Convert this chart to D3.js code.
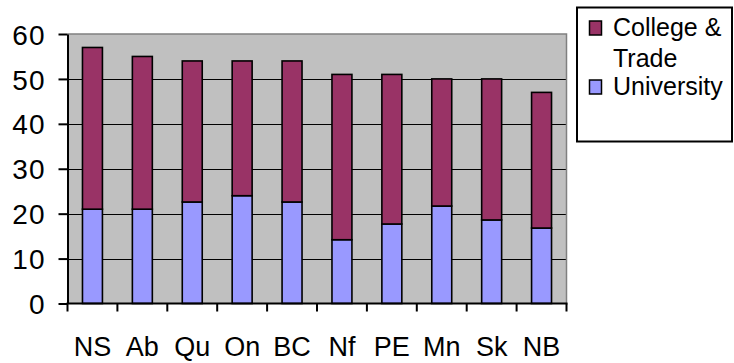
<!DOCTYPE html>
<html>
<head>
<meta charset="utf-8">
<script src="https://cdn.jsdelivr.net/npm/d3@7"></script>
<style>
  html, body { margin: 0; padding: 0; background: #fff; }
  svg { display: block; font-family: "Liberation Sans", Arial, sans-serif; }
</style>
</head>
<body>
<svg id="chart" width="734" height="363"></svg>
<script>
// Provinces (categories)
const provinces = ["NS", "Ab", "Qu", "On", "BC", "Nf", "PE", "Mn", "Sk", "NB"];
// Stacked series values (percent)
const university = [21, 21, 22.6, 24, 22.6, 14.2, 17.7, 21.7, 18.6, 16.8];
const collegeTrade = [36, 34, 31.4, 30, 31.4, 36.8, 33.3, 28.3, 31.4, 30.2];
// Value axis ticks
const yTicks = [0, 10, 20, 30, 40, 50, 60];

const seriesNames = ["University", "College & Trade"];
const colors = { "University": "#9999ff", "College & Trade": "#993366" };

const svg = d3.select("#chart");
const plot = { left: 67.5, right: 566.5, top: 34, bottom: 303.5 };

const x = d3.scaleBand()
  .domain(provinces)
  .range([plot.left, plot.right])
  .paddingInner(0.6)
  .paddingOuter(0.3);

const y = d3.scaleLinear()
  .domain([0, 60])
  .range([plot.bottom, plot.top]);

// Plot area background
svg.append("rect")
  .attr("x", plot.left).attr("y", plot.top)
  .attr("width", plot.right - plot.left)
  .attr("height", plot.bottom - plot.top)
  .attr("fill", "#c0c0c0");

// Horizontal gridlines
svg.append("g")
  .selectAll("line")
  .data(yTicks.filter(t => t > 0 && t < 60))
  .join("line")
  .attr("x1", plot.left).attr("x2", plot.right)
  .attr("y1", d => Math.round(y(d)) + 0.5).attr("y2", d => Math.round(y(d)) + 0.5)
  .attr("stroke", "#000").attr("stroke-width", 1);

// Top and right frame
svg.append("path")
  .attr("d", `M${plot.left},${plot.top}H${plot.right}V${plot.bottom}`)
  .attr("fill", "none").attr("stroke", "#808080").attr("stroke-width", 1.5);

// Stacked bars
const rows = provinces.map((p, i) => ({ province: p, "University": university[i], "College & Trade": collegeTrade[i] }));
const stack = d3.stack().keys(seriesNames)(rows);

svg.append("g")
  .selectAll("g")
  .data(stack)
  .join("g")
  .attr("fill", d => colors[d.key])
  .selectAll("rect")
  .data(d => d)
  .join("rect")
  .attr("x", d => x(d.data.province))
  .attr("width", x.bandwidth())
  .attr("y", d => y(d[1]))
  .attr("height", d => y(d[0]) - y(d[1]))
  .attr("stroke", "#000")
  .attr("stroke-width", 1.6);

// Y axis
const yAxis = svg.append("g")
  .attr("transform", `translate(${plot.left},0)`)
  .call(d3.axisLeft(y).tickValues(yTicks).tickSize(9).tickPadding(13).tickSizeOuter(0));
yAxis.select(".domain").attr("stroke", "#000").attr("stroke-width", 2);
yAxis.selectAll(".tick line").attr("stroke", "#000").attr("stroke-width", 2);
yAxis.selectAll(".tick text")
  .attr("fill", "#000")
  .attr("dy", "0.36em")
  .style("font-size", "28px")
  .style("letter-spacing", "1px")
  .style("font-family", "'Liberation Sans', Arial, sans-serif");

// X axis: ticks sit between categories
const xAxisG = svg.append("g").attr("transform", `translate(0,${plot.bottom})`);
xAxisG.append("line")
  .attr("x1", plot.left - 1).attr("x2", plot.right + 1)
  .attr("y1", 0).attr("y2", 0)
  .attr("stroke", "#000").attr("stroke-width", 2);
const boundaries = d3.range(provinces.length + 1).map(i => plot.left + i * (plot.right - plot.left) / provinces.length);
xAxisG.selectAll("line.tick")
  .data(boundaries)
  .join("line")
  .attr("class", "tick")
  .attr("x1", d => d).attr("x2", d => d)
  .attr("y1", 0).attr("y2", 8)
  .attr("stroke", "#000").attr("stroke-width", 2);
xAxisG.selectAll("text")
  .data(provinces)
  .join("text")
  .attr("x", d => x(d) + x.bandwidth() / 2)
  .attr("y", 52)
  .attr("text-anchor", "middle")
  .style("font-size", "27px")
  .attr("fill", "#000")
  .text(d => d);

// Legend
const legend = svg.append("g");
legend.append("rect")
  .attr("x", 577).attr("y", 7.5)
  .attr("width", 155).attr("height", 134)
  .attr("fill", "#fff").attr("stroke", "#000").attr("stroke-width", 2);

const legendItems = [
  { key: "College & Trade", lines: ["College &", "Trade"], y: 36 },
  { key: "University", lines: ["University"], y: 95 }
];
legendItems.forEach(item => {
  legend.append("rect")
    .attr("x", 589.5).attr("y", item.y - 15)
    .attr("width", 12).attr("height", 14)
    .attr("fill", colors[item.key])
    .attr("stroke", "#000").attr("stroke-width", 1.5);
  const t = legend.append("text")
    .attr("x", 613).attr("y", item.y)
    .style("font-size", "25px")
    .attr("fill", "#000");
  item.lines.forEach((line, i) => {
    t.append("tspan").attr("x", 613).attr("dy", i === 0 ? 0 : 31).text(line);
  });
});
</script>
</body>
</html>
